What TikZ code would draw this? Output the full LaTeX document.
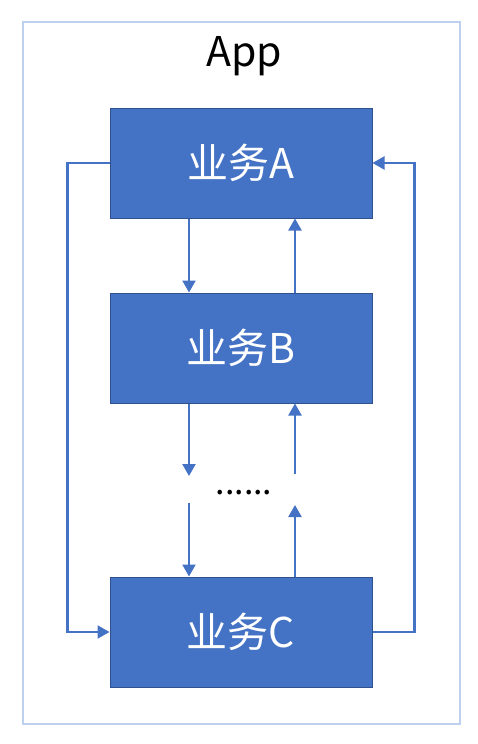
\documentclass[tikz,border=0pt]{standalone}
\usepackage{fontspec}
\setmainfont{Noto Sans CJK SC}
\usetikzlibrary{arrows.meta,positioning}
\definecolor{bizblue}{HTML}{4472C4}
\definecolor{bizedge}{HTML}{2F528F}
\definecolor{framblue}{HTML}{BDD0EE}
\tikzset{
  biz/.style={draw=bizedge, line width=1pt, fill=bizblue, text=white,
    minimum width=262pt, minimum height=110pt, inner sep=0pt,
    font=\fontsize{41}{44}\selectfont},
  flow/.style={draw=bizblue, line width=2.2pt,
    -{Triangle[width=13pt,length=12pt]}}
}
\begin{document}
\begin{tikzpicture}[x=1pt, y=-1pt]
\useasboundingbox (0,0) rectangle (478,744);
\draw[framblue, line width=1.6pt] (23,22) rectangle (460,724);
\node (app) at (244,56) {\fontsize{41}{44}\selectfont App};
\node[biz] (a) at (241,163) {业务A};
\node[biz] (b) at (241,348) {业务B};
\node[biz] (c) at (241,632) {业务C};
\node (dots) at (244,493) {\fontsize{34}{34}\selectfont ......};
% free ends around the dots
\coordinate (downend) at (189,476);
\coordinate (downstart) at (189,503);
\coordinate (upend) at (295,505);
\coordinate (upstart) at (295,474);
\draw[flow] ([xshift=-52pt]a.south) -- ([xshift=-52pt]b.north);
\draw[flow] ([xshift=54pt]b.north) -- ([xshift=54pt]a.south);
\draw[flow] ([xshift=-52pt]b.south) -- (downend);
\draw[flow] (downstart) -- ([xshift=-52pt]c.north);
\draw[flow] ([xshift=54pt]c.north) -- (upend);
\draw[flow] (upstart) -- ([xshift=54pt]b.south);
\draw[flow] (a.west) -- ++(-42,0) |- (c.west);
\draw[flow] (c.east) -- ++(42,0) |- (a.east);
\end{tikzpicture}
\end{document}
